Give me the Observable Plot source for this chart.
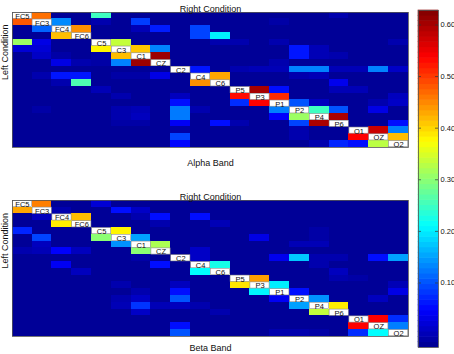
<!DOCTYPE html>
<html><head><meta charset="utf-8">
<script src="https://cdn.jsdelivr.net/npm/d3@7"></script>
<script src="https://cdn.jsdelivr.net/npm/@observablehq/plot@0.6"></script>
<style>
body{margin:0;background:#fff;}
#root{position:relative;width:454px;height:354px;overflow:hidden;}
#root svg{position:absolute;}
</style></head><body><div id="root"></div>
<script>
const channels = ["FC5","FC3","FC4","FC6","C5","C3","C1","CZ","C2","C4","C6","P5","P3","P1","P2","P4","P6","O1","OZ","O2"];

// Alpha band: rows = left condition, columns = right condition (null = diagonal)
const alphaValues = [
[null,0.465,-0.02,-0.02,0.25,-0.02,-0.02,-0.02,-0.02,-0.02,-0.02,-0.02,-0.02,-0.02,-0.02,-0.02,-0.005,-0.02,-0.02,-0.02],
[0.48,null,0.135,-0.02,-0.005,-0.02,0.085,-0.02,-0.02,-0.02,-0.02,-0.02,-0.02,-0.01,-0.02,-0.02,-0.02,-0.02,-0.02,-0.02],
[-0.02,0.11,null,0.445,-0.02,-0.02,0.0,0.065,-0.02,0.09,-0.02,-0.02,-0.02,-0.02,-0.02,-0.02,-0.02,-0.02,-0.02,-0.02],
[-0.02,-0.02,0.415,null,-0.02,-0.02,-0.02,-0.02,-0.02,0.09,0.2,-0.02,-0.02,-0.02,-0.02,-0.02,-0.02,-0.02,-0.02,-0.02],
[0.31,0.03,-0.02,-0.02,null,0.335,-0.02,-0.02,-0.02,-0.02,-0.005,-0.005,-0.02,-0.005,-0.02,-0.02,-0.02,-0.02,-0.02,-0.005],
[0.02,0.02,-0.02,-0.02,0.38,null,0.41,0.13,-0.02,-0.02,-0.02,-0.02,-0.02,-0.02,0.06,0.0,-0.02,-0.02,-0.02,-0.02],
[-0.02,0.01,-0.01,-0.02,-0.01,0.415,null,0.608,-0.02,-0.02,-0.02,-0.02,-0.02,-0.02,0.06,0.0,-0.005,-0.02,-0.02,-0.02],
[-0.02,-0.02,0.03,-0.005,-0.01,0.13,0.608,null,-0.02,-0.02,-0.02,-0.02,-0.02,-0.005,-0.02,-0.02,-0.02,-0.02,-0.02,-0.02],
[-0.02,-0.02,-0.02,-0.02,-0.02,-0.02,-0.02,-0.02,null,0.06,-0.02,-0.005,0.0,0.0,0.13,0.13,0.0,0.0,0.13,0.01],
[-0.02,-0.005,0.06,0.06,-0.02,-0.01,-0.01,0.03,-0.02,null,0.43,-0.02,-0.02,-0.02,-0.005,0.0,-0.02,-0.02,-0.02,-0.02],
[-0.02,-0.02,-0.005,0.26,-0.02,-0.02,-0.02,-0.02,-0.02,0.445,null,-0.02,-0.02,-0.02,-0.02,-0.02,0.035,-0.02,-0.02,-0.02],
[-0.02,-0.02,-0.02,-0.02,0.0,-0.02,-0.02,-0.02,-0.02,-0.02,-0.02,null,0.6,0.055,-0.02,-0.02,0.0,0.0,-0.02,-0.02],
[-0.02,-0.02,-0.02,-0.02,-0.02,-0.005,-0.02,-0.02,0.005,-0.02,-0.02,0.53,null,0.51,-0.02,-0.02,-0.02,-0.02,-0.02,0.005],
[-0.02,-0.02,-0.02,-0.02,-0.02,-0.02,-0.02,-0.02,0.055,-0.02,-0.02,0.075,0.537,null,0.1,0.005,-0.02,-0.02,-0.005,0.01],
[-0.02,-0.01,-0.02,-0.02,-0.02,-0.005,0.0,-0.02,0.125,-0.005,-0.02,-0.02,-0.02,0.128,null,0.25,0.1,-0.02,0.03,-0.02],
[-0.02,-0.02,-0.02,-0.02,-0.02,-0.005,0.005,-0.02,0.125,-0.02,-0.02,-0.02,-0.02,0.045,0.31,null,0.598,-0.02,-0.02,-0.02],
[-0.02,-0.02,-0.02,-0.02,-0.02,-0.01,-0.01,-0.02,0.04,-0.02,0.055,-0.005,-0.02,-0.02,0.09,0.598,null,-0.02,-0.02,0.055],
[-0.02,-0.02,-0.02,-0.02,-0.02,-0.02,-0.02,-0.02,-0.01,-0.02,-0.02,-0.02,-0.02,-0.02,-0.005,-0.02,-0.02,null,0.575,0.128],
[-0.02,-0.02,-0.02,-0.02,-0.02,-0.02,-0.02,-0.02,0.09,-0.02,-0.02,-0.02,-0.02,-0.02,-0.005,-0.02,-0.02,0.537,null,0.415],
[-0.02,-0.02,-0.02,-0.02,-0.02,-0.02,-0.02,-0.02,0.05,-0.02,-0.02,-0.02,-0.02,-0.02,-0.02,-0.005,0.07,0.055,0.33,null]
];

// Beta band
const betaValues = [
[null,0.455,-0.02,-0.02,0.02,-0.02,-0.02,-0.02,-0.02,-0.02,-0.02,-0.02,-0.02,-0.02,-0.02,-0.02,-0.02,-0.02,-0.02,-0.02],
[0.43,null,-0.005,-0.02,-0.02,0.055,0.01,-0.02,-0.02,-0.02,-0.02,-0.02,-0.02,-0.02,-0.02,-0.02,-0.02,-0.02,-0.02,-0.02],
[-0.02,0.005,null,0.415,-0.02,-0.02,-0.005,0.055,-0.02,0.055,-0.02,-0.02,-0.02,-0.02,-0.02,-0.02,-0.02,-0.02,-0.02,-0.02],
[-0.02,-0.02,0.385,null,-0.02,-0.02,-0.02,-0.005,-0.02,-0.02,0.0,-0.02,-0.02,-0.02,-0.02,-0.02,-0.02,-0.02,-0.02,-0.02],
[0.07,-0.02,-0.02,-0.02,null,0.38,-0.02,-0.02,-0.02,-0.02,-0.02,-0.02,-0.02,-0.02,-0.02,-0.01,-0.02,-0.02,-0.02,-0.02],
[-0.02,0.09,-0.02,-0.02,0.30,null,0.15,-0.02,-0.02,-0.02,-0.02,-0.02,0.03,-0.02,-0.02,-0.01,-0.02,-0.02,-0.02,-0.02],
[-0.02,0.005,-0.02,-0.02,-0.02,0.14,null,0.32,-0.02,-0.02,-0.02,-0.02,-0.02,-0.02,0.0,0.0,-0.02,-0.02,-0.02,-0.02],
[-0.005,0.0,0.045,0.005,-0.02,-0.02,0.30,null,-0.02,0.01,-0.02,-0.02,-0.02,-0.02,-0.02,-0.02,-0.02,-0.02,-0.02,-0.02],
[-0.02,-0.02,-0.02,-0.02,-0.02,-0.02,-0.01,-0.02,null,0.01,-0.02,-0.02,-0.02,0.035,0.175,-0.005,-0.005,-0.02,0.055,0.15],
[-0.02,-0.02,0.04,-0.02,-0.02,-0.02,-0.02,0.055,-0.02,null,0.225,-0.02,-0.02,-0.02,-0.02,-0.005,-0.02,-0.02,-0.02,-0.02],
[-0.02,-0.02,-0.02,0.005,-0.02,-0.02,-0.02,-0.02,-0.02,0.21,null,-0.02,-0.02,-0.02,-0.02,-0.02,0.005,-0.02,-0.02,-0.02],
[-0.02,-0.02,-0.02,-0.02,-0.02,-0.02,-0.02,-0.02,-0.02,-0.02,-0.02,null,0.435,-0.02,-0.02,-0.02,-0.005,-0.01,-0.02,-0.02],
[-0.02,-0.02,-0.02,-0.02,-0.02,-0.005,-0.02,-0.02,0.005,-0.02,-0.02,0.39,null,0.2,-0.02,-0.02,-0.02,-0.02,-0.02,0.0],
[-0.02,-0.02,-0.02,-0.02,-0.02,-0.02,-0.005,-0.02,0.055,-0.02,-0.02,-0.02,0.205,null,0.055,-0.02,-0.02,-0.02,-0.02,0.03],
[-0.02,-0.02,-0.02,-0.02,-0.02,-0.005,0.01,-0.02,0.1,-0.02,-0.02,-0.02,-0.02,0.04,null,0.14,-0.02,-0.02,0.005,-0.02],
[-0.02,-0.02,-0.02,-0.02,-0.02,0.0,0.08,0.0,0.005,-0.005,-0.02,-0.02,-0.02,-0.02,0.15,null,0.385,-0.02,-0.02,-0.02],
[-0.02,-0.02,-0.02,-0.02,-0.02,-0.02,0.01,-0.02,-0.02,-0.02,-0.005,-0.02,-0.02,-0.02,-0.02,0.335,null,-0.02,-0.02,-0.02],
[-0.02,-0.02,-0.02,-0.02,-0.02,-0.02,-0.02,-0.02,-0.02,-0.02,-0.02,-0.02,-0.02,-0.02,-0.02,-0.02,-0.02,null,0.537,0.075],
[-0.02,-0.02,-0.02,-0.02,-0.02,-0.02,-0.02,-0.02,0.055,-0.02,-0.02,-0.02,-0.02,-0.02,-0.02,-0.02,-0.02,0.537,null,0.128],
[-0.02,-0.02,-0.02,-0.02,-0.02,-0.02,-0.02,-0.02,0.1,-0.02,-0.02,-0.02,-0.02,-0.005,-0.005,-0.01,-0.02,0.075,0.21,null]
];

const colorTicks = [0.1, 0.2, 0.3, 0.4, 0.5, 0.6];
const colorDomain = [-0.025, 0.628];
const xTitle = "Right Condition";
const yTitle = "Left Condition";
const bandTitles = ["Alpha Band", "Beta Band"];

const FONT = "'Liberation Sans', Arial, Helvetica, sans-serif";
const [lo, hi] = colorDomain;
const jetStops = [0, 0.11, 0.36, 0.61, 0.86, 1];
const jetColors = ["#00008f", "#0000ff", "#00ffff", "#ffff00", "#ff0000", "#800000"];
const colorScale = {type: "linear", domain: jetStops.map(t => lo + t * (hi - lo)), range: jetColors, interpolate: "rgb", clamp: true};

function heatmap(values, title, frameH, mBottom, titleDy) {
  const cells = [];
  values.forEach((row, i) => row.forEach((v, j) => { if (v != null) cells.push({row: channels[i], col: channels[j], v}); }));
  const diag = channels.map(c => ({row: c, col: c}));
  return Plot.plot({
    width: 410, height: 12 + frameH + mBottom,
    marginLeft: 12, marginRight: 2, marginTop: 12, marginBottom: mBottom,
    x: {type: "band", domain: channels, padding: 0, round: false, axis: null},
    y: {type: "band", domain: channels, padding: 0, round: false, axis: null},
    color: colorScale,
    style: {fontFamily: FONT, fontSize: "9px", background: "transparent", overflow: "visible"},
    marks: [
      Plot.cell(cells, {x: "col", y: "row", fill: "v", inset: -0.3, shapeRendering: "crispEdges"}),
      Plot.cell(diag, {x: "col", y: "row", fill: "white", stroke: "#8a8a8a", strokeWidth: 0.6, inset: 0.3}),
      Plot.text(diag, {x: "col", y: "row", text: "col", fontSize: 7.5, fill: "#111", dy: 0.5}),
      Plot.frame({stroke: "#555", strokeWidth: 0.8}),
      Plot.text([xTitle], {frameAnchor: "top", dy: -7, fontSize: 9, fill: "#111"}),
      Plot.text([yTitle], {frameAnchor: "left", dx: -7, rotate: -90, fontSize: 9, fill: "#111"}),
      Plot.text([title], {frameAnchor: "bottom", dy: titleDy, fontSize: 9, fill: "#111"})
    ]
  });
}

function colorbar() {
  const n = 64;
  const bands = d3.range(n).map(i => ({y1: lo + i * (hi - lo) / n, y2: lo + (i + 1) * (hi - lo) / n, v: lo + (i + 0.5) * (hi - lo) / n}));
  return Plot.plot({
    width: 54, height: 354,
    marginLeft: 18, marginRight: 16, marginTop: 10, marginBottom: 7,
    x: {domain: [0, 1], axis: null},
    y: {domain: colorDomain, axis: null},
    color: colorScale,
    style: {fontFamily: FONT, fontSize: "7.5px", background: "transparent", overflow: "visible"},
    marks: [
      Plot.rect(bands, {x1: 0, x2: 1, y1: "y1", y2: "y2", fill: "v", inset: -0.3}),
      Plot.ruleY(colorTicks, {x1: 0, x2: 0.15, stroke: "#333", strokeWidth: 0.7}),
      Plot.ruleY(colorTicks, {x1: 0.85, x2: 1, stroke: "#333", strokeWidth: 0.7}),
      Plot.axisY(colorTicks, {anchor: "right", tickSize: 0, tickPadding: 2, label: null, fill: "#111"}),
      Plot.frame({stroke: "#555", strokeWidth: 0.8})
    ]
  });
}

const root = document.getElementById("root");
const alphaChart = heatmap(alphaValues, bandTitles[0], 135, 28, 18);
alphaChart.style.left = "0px"; alphaChart.style.top = "0px";
const betaChart = heatmap(betaValues, bandTitles[1], 136, 18, 14);
betaChart.style.left = "0px"; betaChart.style.top = "188px";
const cbChart = colorbar();
cbChart.style.left = "400px"; cbChart.style.top = "0px";
root.append(alphaChart, betaChart, cbChart);
</script>
</body></html>
